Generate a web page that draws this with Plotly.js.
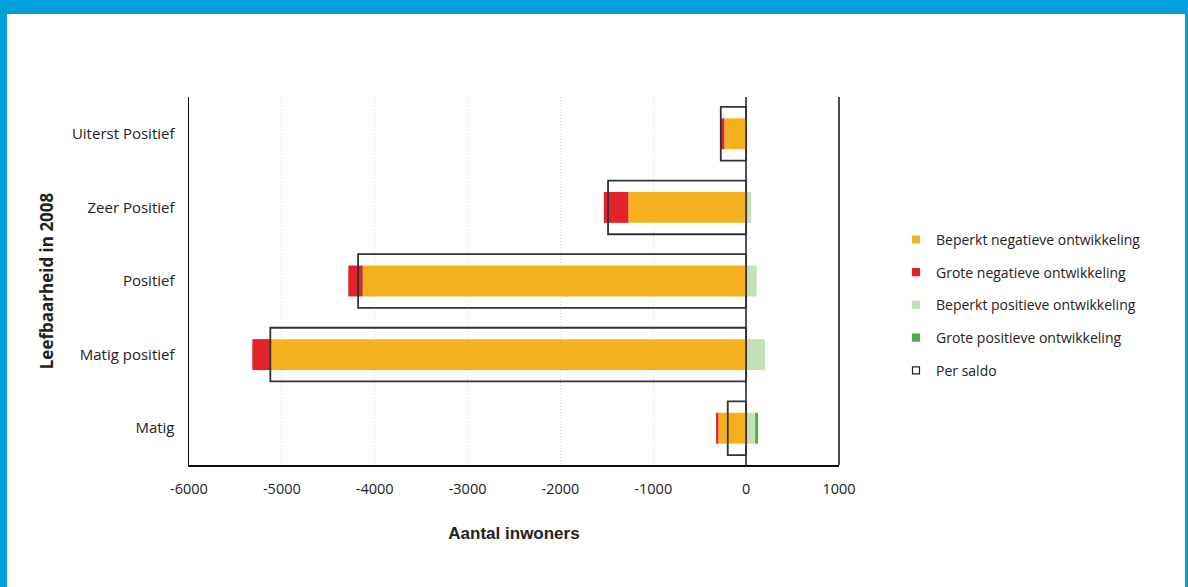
<!DOCTYPE html>
<html>
<head>
<meta charset="utf-8">
<script src="https://cdn.plot.ly/plotly-3.0.1.min.js"></script>
<style>
  html, body { margin: 0; padding: 0; background: #fff; }
  #wrap { position: relative; width: 1188px; height: 587px; overflow: hidden; }
  #chart { position: absolute; left: 0; top: 0; width: 1188px; height: 587px; }
  .bt { position: absolute; left: 0; top: 0; width: 1188px; height: 14px; background: #009fda; }
  .bl { position: absolute; left: 0; top: 0; width: 7px; height: 587px; background: #009fda; }
  .br { position: absolute; right: 0; top: 0; width: 3px; height: 587px; background: #009fda; }
</style>
</head>
<body>
<div id="wrap">
  <div id="chart"></div>
  <div class="bt"></div><div class="bl"></div><div class="br"></div>
</div>
<script>
const categories = ['Uiterst Positief', 'Zeer Positief', 'Positief', 'Matig positief', 'Matig'];
const beperktNegatief = [-235, -1268, -4129, -5127, -299];
const groteNegatief = [-38, -265, -155, -191, -25];
const beperktPositief = [0, 53, 114, 203, 97];
const grotePositief = [0, 0, 0, 0, 31];
const perSaldo = [-273, -1487, -4179, -5124, -198];
const xTicks = [-6000, -5000, -4000, -3000, -2000, -1000, 0, 1000];

const C_ORANGE = '#f5b01e', C_RED = '#e3232a', C_LGREEN = '#c6e0b5', C_GREEN = '#4aab48';
const BAR_W = 0.42, BOX_W = 0.73;
const font = 'Open Sans, Noto Sans, sans-serif';

const traces = [
  { type: 'bar', orientation: 'h', y: categories, x: beperktNegatief, base: 0, width: BAR_W,
    marker: { color: C_ORANGE, line: { width: 0 } }, showlegend: false },
  { type: 'bar', orientation: 'h', y: categories, x: groteNegatief, base: beperktNegatief, width: BAR_W,
    marker: { color: C_RED, line: { width: 0 } }, showlegend: false },
  { type: 'bar', orientation: 'h', y: categories, x: beperktPositief, base: 0, width: BAR_W,
    marker: { color: C_LGREEN, line: { width: 0 } }, showlegend: false },
  { type: 'bar', orientation: 'h', y: categories, x: grotePositief, base: beperktPositief, width: BAR_W,
    marker: { color: C_GREEN, line: { width: 0 } }, showlegend: false },
  { type: 'bar', orientation: 'h', y: categories, x: perSaldo, base: 0, width: BOX_W,
    marker: { color: 'rgba(0,0,0,0)', line: { color: '#333', width: 1.8 } }, showlegend: false },
];

const legendItems = [
  ['Beperkt negatieve ontwikkeling', 'square', C_ORANGE],
  ['Grote negatieve ontwikkeling', 'square', C_RED],
  ['Beperkt positieve ontwikkeling', 'square', C_LGREEN],
  ['Grote positieve ontwikkeling', 'square', C_GREEN],
  ['Per saldo', 'square-open', '#222'],
];
legendItems.forEach(([name, sym, col], i) => {
  traces.push({ type: 'scatter', mode: 'markers', x: [null], y: [null], name: name,
    legendgroup: 'g' + i, showlegend: true,
    marker: { symbol: sym, color: col, size: 7, line: { color: col, width: 1.2 } } });
});

const layout = {
  width: 1188, height: 587,
  margin: { l: 189, r: 349, t: 97, b: 122 },
  paper_bgcolor: '#fff', plot_bgcolor: '#fff',
  barmode: 'overlay',
  showlegend: true,
  legend: { x: (896 - 189) / 650, xanchor: 'left', y: 0.435, yanchor: 'middle',
    traceorder: 'grouped', tracegroupgap: 11.5,
    font: { family: font, size: 14, color: '#222' }, bgcolor: 'rgba(0,0,0,0)' },
  xaxis: {
    range: [-6000, 1000], tickvals: xTicks, ticktext: xTicks.map(String),
    showgrid: true, gridcolor: '#d4d4d4', griddash: '1px,2px', gridwidth: 1,
    zeroline: true, zerolinecolor: '#555', zerolinewidth: 1.5,
    showline: true, linecolor: '#111', linewidth: 1.5,
    ticks: 'outside', ticklen: 10, tickcolor: 'rgba(0,0,0,0)',
    tickfont: { family: font, size: 14.5, color: '#222' },
    title: { text: '<b>Aantal inwoners</b>', font: { family: 'Liberation Sans, Arial, sans-serif', size: 17, color: '#222' }, standoff: 30 },
    fixedrange: true
  },
  yaxis: {
    type: 'category', categoryorder: 'array', categoryarray: categories.slice().reverse(),
    range: [-0.5, 4.5], showgrid: false, zeroline: false,
    showline: true, linecolor: '#111', linewidth: 1.5,
    ticks: 'outside', ticklen: 10, tickcolor: 'rgba(0,0,0,0)',
    tickfont: { family: font, size: 15, color: '#222' },
    title: { text: '<b>Leefbaarheid in 2008</b>', font: { family: font, size: 17, color: '#222' }, standoff: 14 },
    fixedrange: true
  },
  shapes: [
    { type: 'line', xref: 'paper', yref: 'paper', x0: 1, x1: 1, y0: 0, y1: 1, line: { color: '#111', width: 1.5 } }
  ]
};

Plotly.newPlot('chart', traces, layout, { displayModeBar: false, staticPlot: true });
</script>
</body>
</html>
